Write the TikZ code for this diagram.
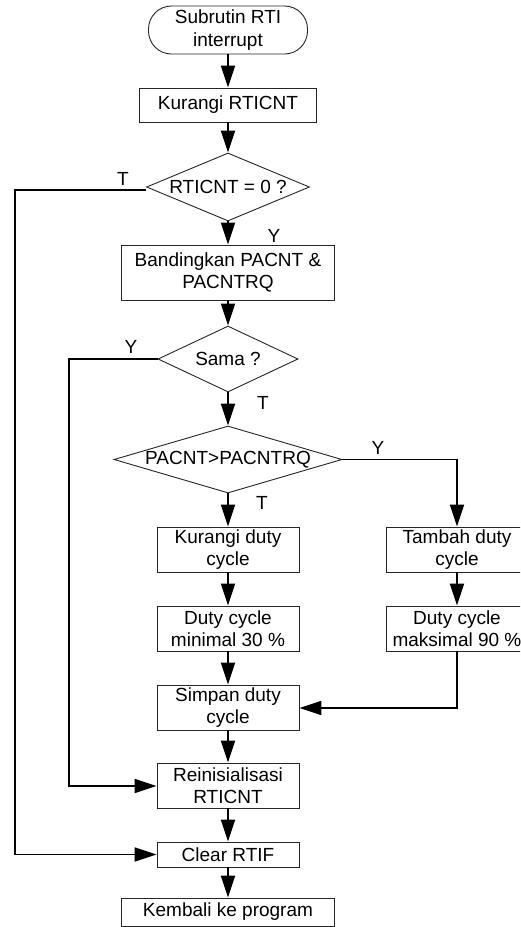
\documentclass[tikz,border=0pt]{standalone}
\usepackage{fontspec}
\setmainfont{Liberation Sans}
\usetikzlibrary{shapes.geometric,arrows.meta}
\begin{document}
\begin{tikzpicture}[x=1pt,y=-1pt,
  every node/.style={font=\fontsize{19}{22.5}\selectfont, align=center, inner sep=0pt},
  box/.style={draw=black!85, line width=0.9pt, rectangle, minimum width=142pt, minimum height=45pt},
  term/.style={draw=black!85, line width=0.9pt, rectangle, rounded corners=23pt, minimum width=159pt, minimum height=48pt},
  dec/.style={draw=black!85, line width=0.9pt, diamond, inner sep=0pt},
  conn/.style={line width=1.8pt, -{Triangle[length=22pt,width=14pt]}},
  lbl/.style={font=\fontsize{19}{22.5}\selectfont}
]
\useasboundingbox (0,0) rectangle (520,927);
\clip (0,0) rectangle (520,927);
\fill[white] (0,0) rectangle (520,927);

\node[term] (start) at (228,30) {Subrutin RTI\\interrupt};
\node[box, minimum width=177pt, minimum height=34pt] (k1) at (228,105) {Kurangi RTICNT};
\node[dec, minimum width=163pt, minimum height=68pt, label={[lbl]center:RTICNT = 0 ?}] (d1) at (228,187) {};
\node[box, minimum width=213pt, minimum height=55pt] (k2) at (228,272.5) {Bandingkan PACNT \&\\PACNTRQ};
\node[dec, minimum width=140pt, minimum height=66pt, label={[lbl]center:Sama ?}] (d2) at (228,359) {};
\node[dec, minimum width=228pt, minimum height=67pt, label={[lbl]center:PACNT>PACNTRQ}] (d3) at (228,459.5) {};
\node[box] (b1) at (228,549.5) {Kurangi duty\\cycle};
\node[box] (b2) at (457,549.5) {Tambah duty\\cycle};
\node[box] (b3) at (228,628.5) {Duty cycle\\minimal 30 \%};
\node[box] (b4) at (457,628.5) {Duty cycle\\maksimal 90 \%};
\node[box] (b5) at (228,707.5) {Simpan duty\\cycle};
\node[box] (b6) at (228,785.5) {Reinisialisasi\\RTICNT};
\node[box, minimum height=25pt] (b7) at (228,854.5) {Clear RTIF};
\node[box, minimum width=213pt, minimum height=28pt] (b8) at (228,912) {Kembali ke program};

\coordinate (cR) at (457,459.5);
\coordinate (cM) at (457,708);
\coordinate (cY1) at (69,359);
\coordinate (cY2) at (69,786);
\coordinate (cT1) at (15,190);
\coordinate (cT2) at (15,854.5);

\draw[conn] (start) -- (k1);
\draw[conn] (k1) -- (d1);
\draw[conn] (d1) -- (k2);
\draw[conn] (k2) -- (d2);
\draw[conn] (d2) -- (d3);
\draw[conn] (d3) -- (b1);
\draw[conn] (b1) -- (b3);
\draw[conn] (b3) -- (b5);
\draw[conn] (b5) -- (b6);
\draw[conn] (b6) -- (b7);
\draw[conn] (b7) -- (b8);
\draw[conn] (d3.east) -- (cR) -- (b2.north);
\draw[conn] (b2) -- (b4);
\draw[conn] (b4.south) -- (cM) -- (b5.east |- cM);
\draw[conn] (d2.west) -- (cY1) -- (cY2) -- (b6.west |- cY2);
\draw[conn] (d1.west |- cT1) -- (cT1) -- (cT2) -- (b7.west);

\node[lbl] (tT1) at (123,179) {T};
\node[lbl] (tY1) at (274,236) {Y};
\node[lbl] (tY2) at (131,347) {Y};
\node[lbl] (tT2) at (263,403) {T};
\node[lbl] (tY3) at (378,448) {Y};
\node[lbl] (tT3) at (262,503) {T};
\end{tikzpicture}
\end{document}
